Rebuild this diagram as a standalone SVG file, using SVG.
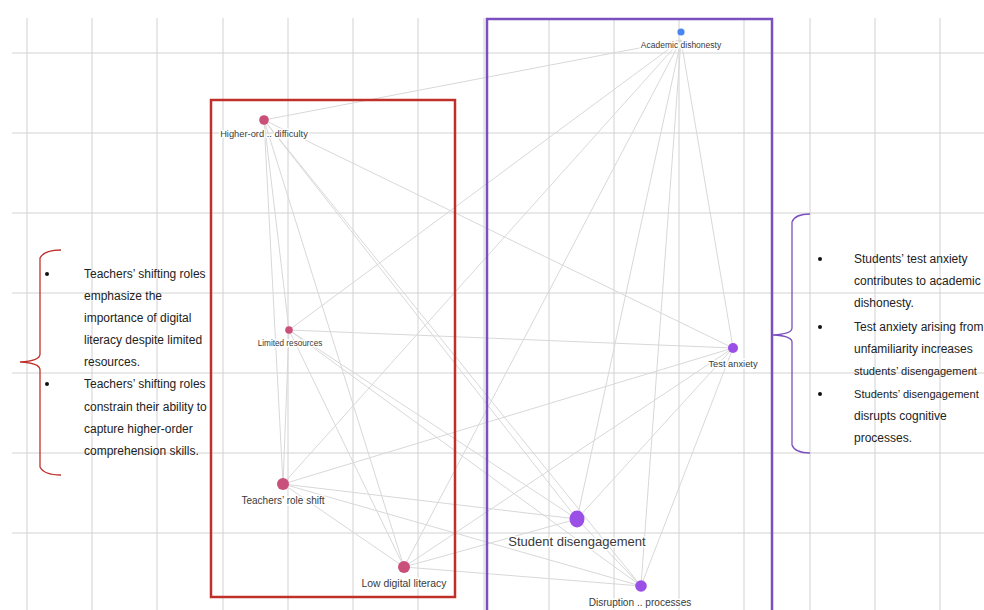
<svg xmlns="http://www.w3.org/2000/svg" width="984" height="610" viewBox="0 0 984 610">
<style>
.grid line{stroke:#d2d2d2;stroke-width:1}
.edges line{stroke:#d8d8d8;stroke-width:1}
.lbl{font-family:"Liberation Sans",Arial,sans-serif;fill:#3a3a3a;text-anchor:middle;stroke:#fff;stroke-width:3;paint-order:stroke;stroke-linejoin:round}
.txt{font-family:"Liberation Sans",Arial,sans-serif;font-size:12px;fill:#222}
.txt.sm{font-size:11.1px}
.pink{fill:#c9507a}
.purp{fill:#9a4fe6}
</style>
<rect width="984" height="610" fill="#fff"/>
<g class="grid">
<line x1="27" y1="18" x2="27" y2="610"/><line x1="92" y1="18" x2="92" y2="610"/><line x1="157" y1="18" x2="157" y2="610"/><line x1="223" y1="18" x2="223" y2="610"/><line x1="288" y1="18" x2="288" y2="610"/><line x1="353" y1="18" x2="353" y2="610"/><line x1="418" y1="18" x2="418" y2="610"/><line x1="484" y1="18" x2="484" y2="610"/><line x1="549" y1="18" x2="549" y2="610"/><line x1="614" y1="18" x2="614" y2="610"/><line x1="679" y1="18" x2="679" y2="610"/><line x1="744" y1="18" x2="744" y2="610"/><line x1="810" y1="18" x2="810" y2="610"/><line x1="875" y1="18" x2="875" y2="610"/><line x1="940" y1="18" x2="940" y2="610"/>
<line x1="12" y1="53" x2="984" y2="53"/><line x1="12" y1="133" x2="984" y2="133"/><line x1="12" y1="213" x2="984" y2="213"/><line x1="12" y1="293" x2="984" y2="293"/><line x1="12" y1="373" x2="984" y2="373"/><line x1="12" y1="453" x2="984" y2="453"/><line x1="12" y1="533" x2="984" y2="533"/>
</g>
<g id="connectors" class="edges">
<line x1="681" y1="40" x2="264" y2="120"/><line x1="681" y1="40" x2="289" y2="330"/><line x1="681" y1="40" x2="283" y2="484"/><line x1="681" y1="40" x2="404" y2="567"/><line x1="681" y1="40" x2="733" y2="348"/><line x1="681" y1="40" x2="577" y2="519"/><line x1="681" y1="40" x2="641" y2="586"/>
<line x1="264" y1="120" x2="289" y2="330"/><line x1="264" y1="120" x2="283" y2="484"/><line x1="264" y1="120" x2="404" y2="567"/><line x1="264" y1="120" x2="733" y2="348"/><line x1="264" y1="120" x2="577" y2="519"/><line x1="264" y1="120" x2="641" y2="586"/>
<line x1="289" y1="330" x2="283" y2="484"/><line x1="289" y1="330" x2="404" y2="567"/><line x1="289" y1="330" x2="733" y2="348"/><line x1="289" y1="330" x2="577" y2="519"/><line x1="289" y1="330" x2="641" y2="586"/>
<line x1="283" y1="484" x2="404" y2="567"/><line x1="283" y1="484" x2="733" y2="348"/><line x1="283" y1="484" x2="577" y2="519"/><line x1="283" y1="484" x2="641" y2="586"/>
<line x1="404" y1="567" x2="733" y2="348"/><line x1="404" y1="567" x2="577" y2="519"/><line x1="404" y1="567" x2="641" y2="586"/>
<line x1="733" y1="348" x2="577" y2="519"/><line x1="733" y1="348" x2="641" y2="586"/>
<line x1="577" y1="519" x2="641" y2="586"/>
</g>
<rect x="211" y="100" width="244" height="497" fill="none" stroke="#c0302b" stroke-width="2.5"/>
<rect x="487" y="19" width="285" height="600" fill="none" stroke="#7b4fbf" stroke-width="2.5"/>
<g id="n-academic"><circle cx="681" cy="32" r="3.6" fill="#4b86f0"/><text class="lbl" x="681" y="47.5" font-size="8.5">Academic dishonesty</text></g>
<g id="n-higher"><circle cx="264" cy="120" r="4.8" class="pink"/><text class="lbl" x="264" y="136.5" font-size="9.3">Higher-ord .. difficulty</text></g>
<g id="n-limited"><circle cx="289" cy="330" r="3.8" class="pink"/><text class="lbl" x="290" y="346" font-size="8.2">Limited resources</text></g>
<g id="n-teachers"><circle cx="283" cy="484" r="6" class="pink"/><text class="lbl" x="283" y="503.5" font-size="10">Teachers’ role shift</text></g>
<g id="n-lowdigital"><circle cx="404" cy="567" r="6" class="pink"/><text class="lbl" x="404" y="586.5" font-size="10.4">Low digital literacy</text></g>
<g id="n-testanxiety"><circle cx="733" cy="348" r="5" class="purp"/><text class="lbl" x="733" y="366.5" font-size="9.3">Test anxiety</text></g>
<g id="n-studentdis"><ellipse cx="577" cy="519" rx="7.5" ry="8.5" class="purp"/><text class="lbl" x="577" y="545.5" font-size="13">Student disengagement</text></g>
<g id="n-disruption"><circle cx="641" cy="586" r="5.8" class="purp"/><text class="lbl" x="640" y="605.5" font-size="10.1">Disruption .. processes</text></g>
<g id="left-note">
<path d="M61 250 Q44 250 40 258 L40 354 Q40 361 20 362 Q40 363 40 370 L40 467 Q44 475 61 475" fill="none" stroke="#c0302b" stroke-width="1.3"/>
<circle cx="47" cy="274" r="2" fill="#111"/><circle cx="47" cy="384" r="2" fill="#111"/>
<text class="txt" x="84" y="278">Teachers’ shifting roles</text>
<text class="txt" x="84" y="300">emphasize the</text>
<text class="txt" x="84" y="322">importance of digital</text>
<text class="txt" x="84" y="344">literacy despite limited</text>
<text class="txt" x="84" y="366">resources.</text>
<text class="txt" x="84" y="388">Teachers’ shifting roles</text>
<text class="txt" x="84" y="411">constrain their ability to</text>
<text class="txt" x="84" y="433">capture higher-order</text>
<text class="txt" x="84" y="455">comprehension skills.</text>
</g>
<g id="right-note">
<path d="M810 214 Q795 214 792 222 L792 328 Q792 334 773 335 Q792 336 792 342 L792 445 Q795 453 810 453" fill="none" stroke="#7b4fbf" stroke-width="1.3"/>
<circle cx="820" cy="259" r="2" fill="#111"/><circle cx="820" cy="327" r="2" fill="#111"/><circle cx="820" cy="394" r="2" fill="#111"/>
<text class="txt" x="854" y="263">Students’ test anxiety</text>
<text class="txt" x="854" y="285">contributes to academic</text>
<text class="txt" x="854" y="307">dishonesty.</text>
<text class="txt" x="854" y="331">Test anxiety arising from</text>
<text class="txt" x="854" y="353">unfamiliarity increases</text>
<text class="txt sm" x="854" y="375">students’ disengagement</text>
<text class="txt sm" x="854" y="398">Students’ disengagement</text>
<text class="txt" x="854" y="420">disrupts cognitive</text>
<text class="txt" x="854" y="442">processes.</text>
</g>
</svg>
